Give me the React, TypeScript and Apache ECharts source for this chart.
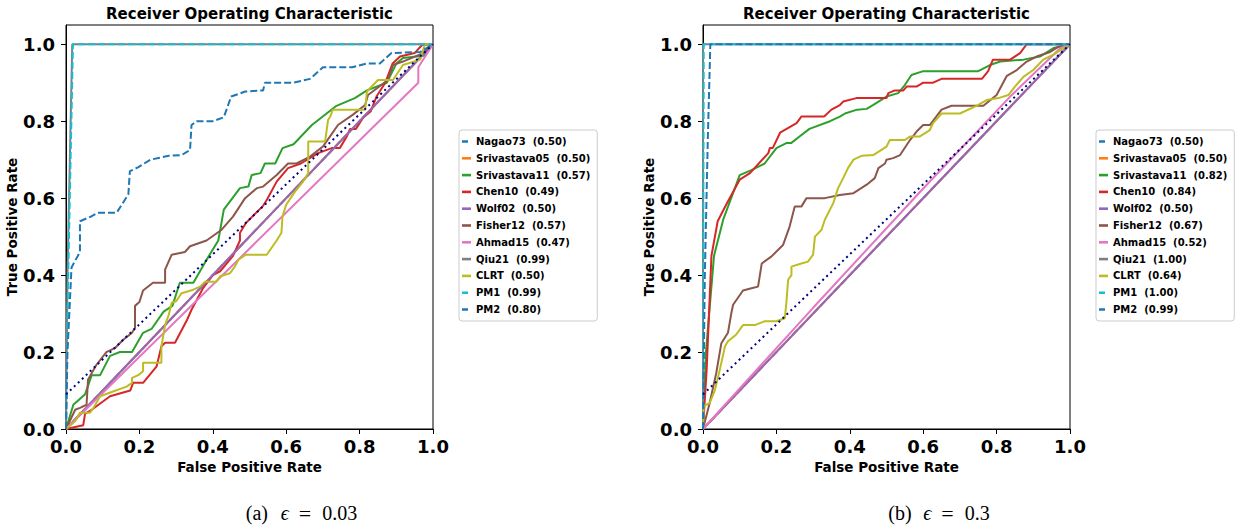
import React, { useEffect, useRef } from "react";
import * as echarts from "echarts";

// ---------- data ----------
const methods = ["Nagao73", "Srivastava05", "Srivastava11", "Chen10", "Wolf02", "Fisher12", "Ahmad15", "Qiu21", "CLRT", "PM1", "PM2"];
const aucLeft = ["0.50", "0.50", "0.57", "0.49", "0.50", "0.57", "0.47", "0.99", "0.50", "0.99", "0.80"];
const aucRight = ["0.50", "0.50", "0.82", "0.84", "0.50", "0.67", "0.52", "1.00", "0.64", "1.00", "0.99"];
const colors = ["#1f77b4", "#ff7f0e", "#2ca02c", "#d62728", "#9467bd", "#8c564b", "#e377c2", "#7f7f7f", "#bcbd22", "#17becf", "#1f77b4"];
const dashedMethods = ["Nagao73", "PM1", "PM2"];
const axisTicks = [0, 0.2, 0.4, 0.6, 0.8, 1.0];
const titleText = "Receiver Operating Characteristic";
const captionLeft = ["(a)", "0.03"];
const captionRight = ["(b)", "0.3"];

type Pt = [number, number];

// eps = 0.03
const nagaoL: Pt[] = [[0, 0], [1, 1]];
const srivastava05L: Pt[] = [[0, 0], [1, 1]];
const srivastava11L: Pt[] = [[0, 0], [0.02, 0.063], [0.052, 0.09], [0.07, 0.14], [0.093, 0.14], [0.12, 0.19], [0.147, 0.2], [0.18, 0.2], [0.21, 0.25], [0.233, 0.26], [0.266, 0.305], [0.29, 0.32], [0.31, 0.38], [0.347, 0.38], [0.38, 0.435], [0.415, 0.49], [0.43, 0.57], [0.474, 0.626], [0.497, 0.63], [0.506, 0.66], [0.53, 0.665], [0.542, 0.69], [0.57, 0.69], [0.59, 0.73], [0.62, 0.74], [0.67, 0.79], [0.737, 0.84], [0.787, 0.86], [0.82, 0.88], [0.874, 0.9], [0.9, 0.95], [0.918, 0.964], [0.974, 0.97], [1, 1]];
const chenL: Pt[] = [[0, 0], [0.047, 0.01], [0.052, 0.04], [0.07, 0.05], [0.12, 0.085], [0.175, 0.1], [0.183, 0.12], [0.21, 0.12], [0.247, 0.163], [0.26, 0.215], [0.27, 0.224], [0.297, 0.224], [0.33, 0.284], [0.342, 0.31], [0.374, 0.367], [0.4, 0.4], [0.42, 0.41], [0.455, 0.45], [0.474, 0.49], [0.474, 0.51], [0.49, 0.535], [0.537, 0.58], [0.547, 0.595], [0.574, 0.643], [0.605, 0.678], [0.64, 0.69], [0.687, 0.717], [0.724, 0.73], [0.746, 0.73], [0.765, 0.76], [0.774, 0.78], [0.79, 0.78], [0.81, 0.81], [0.83, 0.825], [0.846, 0.864], [0.87, 0.9], [0.89, 0.95], [0.91, 0.968], [0.95, 0.977], [0.97, 0.998], [1, 1]];
const wolfL: Pt[] = [[0, 0], [1, 1]];
const fisherL: Pt[] = [[0, 0], [0.025, 0.05], [0.038, 0.055], [0.056, 0.063], [0.06, 0.128], [0.083, 0.167], [0.11, 0.2], [0.133, 0.21], [0.156, 0.232], [0.18, 0.25], [0.188, 0.263], [0.188, 0.32], [0.2, 0.33], [0.21, 0.36], [0.237, 0.38], [0.27, 0.38], [0.27, 0.414], [0.288, 0.453], [0.324, 0.46], [0.338, 0.475], [0.383, 0.49], [0.424, 0.518], [0.455, 0.552], [0.488, 0.6], [0.52, 0.626], [0.537, 0.63], [0.574, 0.66], [0.605, 0.69], [0.628, 0.69], [0.665, 0.708], [0.7, 0.734], [0.741, 0.79], [0.782, 0.817], [0.815, 0.842], [0.823, 0.868], [0.877, 0.907], [0.891, 0.946], [0.918, 0.955], [0.973, 0.977], [1, 1]];
const ahmadL: Pt[] = [[0, 0], [0.96, 0.9], [0.96, 0.94], [1, 1]];
const qiuL: Pt[] = [[0, 0], [0.004, 0.4], [0.017, 1], [1, 1]];
const clrtL: Pt[] = [[0, 0], [0.025, 0.02], [0.038, 0.042], [0.065, 0.042], [0.075, 0.055], [0.093, 0.085], [0.13, 0.098], [0.165, 0.11], [0.18, 0.12], [0.18, 0.133], [0.197, 0.14], [0.21, 0.15], [0.21, 0.172], [0.26, 0.172], [0.26, 0.215], [0.27, 0.27], [0.28, 0.297], [0.288, 0.328], [0.3, 0.332], [0.315, 0.353], [0.347, 0.362], [0.365, 0.37], [0.379, 0.383], [0.41, 0.383], [0.42, 0.397], [0.447, 0.405], [0.46, 0.422], [0.47, 0.44], [0.49, 0.453], [0.547, 0.453], [0.574, 0.49], [0.587, 0.51], [0.59, 0.553], [0.6, 0.583], [0.624, 0.617], [0.646, 0.643], [0.66, 0.665], [0.66, 0.747], [0.706, 0.747], [0.714, 0.803], [0.72, 0.812], [0.727, 0.83], [0.815, 0.83], [0.82, 0.877], [0.85, 0.907], [0.891, 0.907], [0.918, 0.946], [0.965, 0.96], [0.978, 1], [1, 1]];
const pm1L: Pt[] = [[0, 0], [0.006, 0.4], [0.019, 1], [1, 1]];
const pm2L: Pt[] = [[0, 0], [0.004, 0.2], [0.015, 0.42], [0.038, 0.46], [0.038, 0.54], [0.07, 0.553], [0.087, 0.562], [0.138, 0.562], [0.17, 0.61], [0.174, 0.67], [0.196, 0.68], [0.23, 0.7], [0.28, 0.71], [0.315, 0.712], [0.338, 0.725], [0.342, 0.79], [0.356, 0.8], [0.4, 0.8], [0.43, 0.81], [0.45, 0.864], [0.488, 0.877], [0.537, 0.88], [0.542, 0.9], [0.62, 0.9], [0.665, 0.91], [0.7, 0.94], [0.78, 0.94], [0.82, 0.95], [0.855, 0.95], [0.887, 0.977], [0.965, 0.98], [1, 1]];
const chanceL: Pt[] = [[0, 0.09], [1, 1]];

// eps = 0.3
const nagaoR: Pt[] = [[0, 0], [1, 1]];
const srivastava05R: Pt[] = [[0, 0], [1, 1]];
const srivastava11R: Pt[] = [[0, 0], [0.008, 0.2], [0.03, 0.45], [0.055, 0.544], [0.1, 0.66], [0.132, 0.673], [0.168, 0.69], [0.2, 0.73], [0.227, 0.743], [0.24, 0.743], [0.263, 0.76], [0.29, 0.78], [0.346, 0.8], [0.373, 0.812], [0.387, 0.82], [0.42, 0.83], [0.446, 0.832], [0.463, 0.842], [0.5, 0.864], [0.532, 0.873], [0.55, 0.894], [0.568, 0.92], [0.6, 0.93], [0.75, 0.93], [0.782, 0.946], [0.81, 0.955], [0.873, 0.96], [0.918, 0.968], [0.955, 0.99], [1, 1]];
const chenR: Pt[] = [[0, 0], [0.01, 0.155], [0.023, 0.45], [0.04, 0.54], [0.063, 0.583], [0.1, 0.648], [0.128, 0.665], [0.178, 0.717], [0.182, 0.73], [0.19, 0.73], [0.21, 0.77], [0.255, 0.795], [0.268, 0.812], [0.33, 0.812], [0.35, 0.83], [0.373, 0.842], [0.382, 0.851], [0.418, 0.86], [0.5, 0.86], [0.505, 0.873], [0.523, 0.88], [0.546, 0.88], [0.555, 0.89], [0.582, 0.89], [0.6, 0.9], [0.627, 0.9], [0.65, 0.91], [0.76, 0.91], [0.777, 0.93], [0.79, 0.96], [0.837, 0.96], [0.864, 0.977], [0.882, 1], [1, 1]];
const wolfR: Pt[] = [[0, 0], [1, 1]];
const fisherR: Pt[] = [[0, 0], [0.018, 0.067], [0.036, 0.145], [0.05, 0.223], [0.068, 0.25], [0.077, 0.3], [0.082, 0.323], [0.109, 0.36], [0.132, 0.366], [0.15, 0.37], [0.16, 0.43], [0.186, 0.448], [0.218, 0.478], [0.236, 0.526], [0.25, 0.578], [0.268, 0.578], [0.282, 0.6], [0.332, 0.6], [0.373, 0.608], [0.41, 0.613], [0.446, 0.635], [0.468, 0.652], [0.478, 0.678], [0.496, 0.69], [0.5, 0.7], [0.518, 0.704], [0.537, 0.712], [0.564, 0.751], [0.582, 0.773], [0.6, 0.79], [0.618, 0.79], [0.65, 0.83], [0.677, 0.84], [0.764, 0.84], [0.8, 0.868], [0.828, 0.918], [0.855, 0.933], [0.882, 0.955], [0.909, 0.968], [0.946, 0.98], [0.968, 0.993], [1, 1]];
const ahmadR: Pt[] = [[0, 0], [0.3, 0.315], [0.6, 0.625], [0.837, 0.864], [0.974, 0.99], [1, 1]];
const qiuR: Pt[] = [[0, 0], [0, 1], [1, 1]];
const clrtR: Pt[] = [[0, 0], [0.002, 0.06], [0.018, 0.067], [0.032, 0.1], [0.046, 0.155], [0.06, 0.215], [0.068, 0.228], [0.09, 0.245], [0.109, 0.27], [0.141, 0.27], [0.168, 0.28], [0.2, 0.28], [0.223, 0.288], [0.227, 0.327], [0.232, 0.388], [0.241, 0.4], [0.241, 0.422], [0.268, 0.43], [0.286, 0.435], [0.3, 0.453], [0.305, 0.5], [0.323, 0.518], [0.332, 0.544], [0.355, 0.587], [0.368, 0.626], [0.382, 0.652], [0.395, 0.678], [0.41, 0.7], [0.432, 0.71], [0.464, 0.712], [0.5, 0.734], [0.509, 0.751], [0.55, 0.751], [0.564, 0.76], [0.59, 0.76], [0.618, 0.777], [0.627, 0.795], [0.65, 0.82], [0.7, 0.82], [0.745, 0.84], [0.773, 0.855], [0.805, 0.86], [0.832, 0.868], [0.85, 0.89], [0.873, 0.915], [0.9, 0.933], [0.927, 0.96], [0.955, 0.973], [0.982, 0.99], [1, 1]];
const pm1R: Pt[] = [[0, 0], [0.002, 1], [1, 1]];
const pm2R: Pt[] = [[0, 0], [0.005, 0.4], [0.013, 0.75], [0.02, 1], [1, 1]];
const chanceR: Pt[] = [[0, 0.09], [1, 1]];

const curvesLeft = [nagaoL, srivastava05L, srivastava11L, chenL, wolfL, fisherL, ahmadL, qiuL, clrtL, pm1L, pm2L];
const curvesRight = [nagaoR, srivastava05R, srivastava11R, chenR, wolfR, fisherR, ahmadR, qiuR, clrtR, pm1R, pm2R];

// ---------- styling ----------
const FONT = "DejaVu Sans";
const SERIF = "Liberation Serif";
const SOLID_ICON = "path://M0 0H9V2.6H0Z";
const DASH_ICON = "path://M0 0H6V2.6H0Z M8.95 1.25H9V1.3H8.95Z";

const label = (m: string, a: string) => `${m}\u00a0\u00a0(${a})`;

function buildPanel(idx: number, curves: Pt[][], aucs: string[], chance: Pt[]) {
  const series: any[] = curves.map((data, i) => ({
    type: "line",
    name: label(methods[i], aucs[i]),
    xAxisIndex: idx,
    yAxisIndex: idx,
    data,
    showSymbol: false,
    symbol: "none",
    color: colors[i],
    lineStyle: {
      width: 2,
      color: colors[i],
      type: dashedMethods.includes(methods[i]) ? [7, 3] : "solid",
    },
  }));
  series.push({
    type: "line",
    name: "chance" + idx,
    xAxisIndex: idx,
    yAxisIndex: idx,
    data: chance,
    showSymbol: false,
    symbol: "none",
    color: "#000080",
    lineStyle: { width: 2, color: "#000080", type: [2, 3.5] },
  });
  return series;
}

function legendFor(left: number, aucs: string[]) {
  return {
    orient: "vertical",
    left,
    top: 130,
    padding: [5, 7, 5, 3],
    itemGap: 3.8,
    itemWidth: 9,
    itemHeight: 2.6,
    borderColor: "#cccccc",
    borderWidth: 1,
    borderRadius: 3,
    backgroundColor: "#ffffff",
    selectedMode: false,
    textStyle: { fontFamily: FONT, fontWeight: "bold", fontSize: 10, color: "#000", lineHeight: 13 },
    data: methods.map((m, i) => ({
      name: label(m, aucs[i]),
      icon: dashedMethods.includes(m) ? DASH_ICON : SOLID_ICON,
    })),
  };
}

const tickLabelStyle = { fontFamily: FONT, fontWeight: "bold", fontSize: 18, color: "#000" };
const axisNameStyle = { fontFamily: FONT, fontWeight: "bold", fontSize: 13.5, color: "#000" };

function xAxisFor(gridIndex: number) {
  return {
    type: "value",
    gridIndex,
    min: 0,
    max: 1,
    interval: 0.2,
    name: "False Positive Rate",
    nameLocation: "middle",
    nameGap: 31,
    nameTextStyle: axisNameStyle,
    axisLine: { show: true, onZero: false, lineStyle: { color: "#000", width: 1 } },
    axisTick: { show: true, length: 5, inside: false, lineStyle: { color: "#000", width: 1 } },
    axisLabel: { margin: 8, ...tickLabelStyle, formatter: (v: number) => v.toFixed(1) },
    splitLine: { show: false },
  };
}

function yAxisFor(gridIndex: number) {
  return {
    type: "value",
    gridIndex,
    min: 0,
    max: 1.05,
    name: "True Positive Rate",
    nameLocation: "middle",
    nameGap: 43,
    nameTextStyle: axisNameStyle,
    axisLine: { show: true, onZero: false, lineStyle: { color: "#000", width: 1 } },
    axisTick: { show: true, length: 5, inside: false, customValues: axisTicks, lineStyle: { color: "#000", width: 1 } },
    axisLabel: { margin: 11, ...tickLabelStyle, customValues: axisTicks, formatter: (v: number) => v.toFixed(1) },
    splitLine: { show: false },
  };
}

const captionRich = {
  a: { fontFamily: SERIF, fontSize: 20, width: 35, align: "left" },
  e: { fontFamily: SERIF, fontSize: 20, fontStyle: "italic", width: 18, align: "left" },
  q: { fontFamily: SERIF, fontSize: 22, width: 23.5, align: "left" },
  n: { fontFamily: SERIF, fontSize: 20, align: "left" },
};

function caption(x: number, parts: string[]) {
  return {
    type: "text",
    x,
    y: 513,
    style: {
      text: `{a|${parts[0]}}{e|ϵ}{q|=}{n|${parts[1]}}`,
      fill: "#000",
      align: "center",
      verticalAlign: "middle",
      rich: captionRich,
    },
  };
}

export default function App() {
  const ref = useRef<HTMLDivElement>(null);
  useEffect(() => {
    if (!ref.current) return;
    const chart = echarts.init(ref.current, null, { renderer: "svg" });
    const titleStyle = { fontFamily: FONT, fontWeight: "bold", fontSize: 15, color: "#000" };
    const option: any = {
      animation: false,
      backgroundColor: "#ffffff",
      title: [
        { text: titleText, left: 249.5, top: 6, textAlign: "center", padding: 0, textStyle: titleStyle },
        { text: titleText, left: 886.5, top: 6, textAlign: "center", padding: 0, textStyle: titleStyle },
      ],
      grid: [
        { left: 66, top: 25, width: 367, height: 404, show: true, borderColor: "#000", borderWidth: 1, backgroundColor: "transparent" },
        { left: 703, top: 25, width: 367, height: 404, show: true, borderColor: "#000", borderWidth: 1, backgroundColor: "transparent" },
      ],
      xAxis: [xAxisFor(0), xAxisFor(1)],
      yAxis: [yAxisFor(0), yAxisFor(1)],
      legend: [legendFor(459, aucLeft), legendFor(1096, aucRight)],
      series: [...buildPanel(0, curvesLeft, aucLeft, chanceL), ...buildPanel(1, curvesRight, aucRight, chanceR)],
      graphic: [caption(301.5, captionLeft), caption(939, captionRight)],
    };
    chart.setOption(option);
    return () => chart.dispose();
  }, []);
  return <div ref={ref} style={{ position: "fixed", left: 0, top: 0, width: 1236, height: 529 }} />;
}
